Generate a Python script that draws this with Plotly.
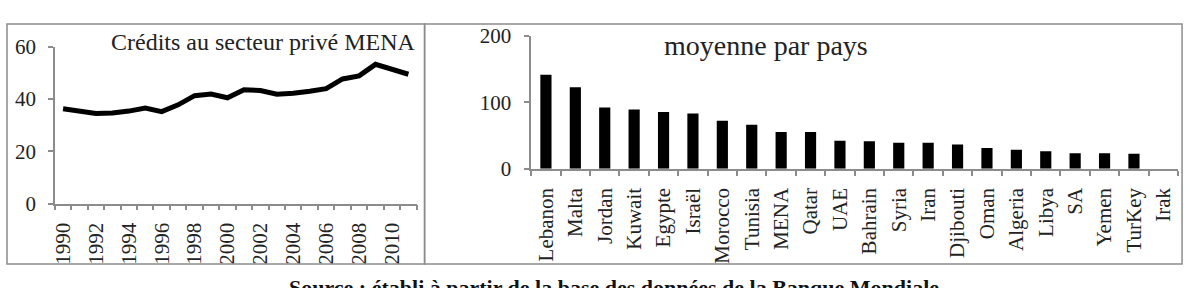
import plotly.graph_objects as go

years = list(range(1990, 2012))
credits_mena = [36.3, 35.4, 34.5, 34.7, 35.4, 36.6, 35.2, 37.8, 41.3, 41.9, 40.5,
                43.6, 43.3, 41.9, 42.2, 43.0, 44.0, 47.7, 48.9, 53.3, 51.2, 49.5]
year_ticks = list(range(1990, 2011, 2))

countries = ["Lebanon", "Malta", "Jordan", "Kuwait", "Egypte", "Israël", "Morocco",
             "Tunisia", "MENA", "Qatar", "UAE", "Bahrain", "Syria", "Iran", "Djibouti",
             "Oman", "Algeria", "Libya", "SA", "Yemen", "TurKey", "Irak"]
moyenne = [141.6, 122.8, 92.0, 89.2, 85.5, 83.2, 72.2, 66.2, 55.2, 55.2, 42.3, 41.4,
           39.1, 39.1, 36.3, 31.3, 28.5, 26.2, 23.4, 23.4, 22.5, 0]

W, H = 1197, 288
FONT = "Liberation Serif, Times New Roman, serif"
GREY = "#8c8c8c"

def px(x):
    return x / W

def py(y):
    return 1 - y / H

fig = go.Figure()
fig.add_trace(go.Scatter(x=years, y=credits_mena, mode="lines",
                         line=dict(color="black", width=5), xaxis="x", yaxis="y",
                         showlegend=False))
fig.add_trace(go.Bar(x=countries, y=moyenne, marker=dict(color="black", line=dict(width=0)),
                     xaxis="x2", yaxis="y2", showlegend=False))

tickfont = dict(family=FONT, size=21, color="#222")

fig.update_layout(
    width=W, height=H,
    margin=dict(l=0, r=0, t=0, b=0),
    paper_bgcolor="white", plot_bgcolor="white",
    bargap=0.62,
    xaxis=dict(domain=[px(51), px(414)], range=[1989.5, 2011.5],
               tickvals=year_ticks, ticktext=[str(y) for y in year_ticks],
               tickangle=-90, ticks="", tickfont=tickfont, ticklabelstandoff=9,
               minor=dict(ticks="outside", tick0=1989.5, dtick=1, ticklen=5,
                          tickcolor=GREY, tickwidth=1.5),
               showline=True, linecolor=GREY, linewidth=1.5, showgrid=False,
               zeroline=False, anchor="y"),
    yaxis=dict(domain=[py(209), py(38)], range=[0, 60], tickvals=[0, 20, 40, 60],
               ticks="outside", ticklen=5, tickcolor=GREY, tickwidth=1.5,
               tickfont=tickfont, ticklabelstandoff=8, showline=True, linecolor=GREY,
               linewidth=1.5, showgrid=False, zeroline=False, anchor="x"),
    xaxis2=dict(domain=[px(529), px(1178)], type="category", tickangle=-90,
                ticks="outside", tickson="boundaries", ticklen=5, tickcolor=GREY,
                tickwidth=1.5, tickfont=tickfont, ticklabelstandoff=9, showline=True,
                linecolor=GREY, linewidth=1.5, showgrid=False, zeroline=False,
                anchor="y2"),
    yaxis2=dict(domain=[py(171), py(26)], range=[0, 200], tickvals=[0, 100, 200],
                ticks="outside", ticklen=5, tickcolor=GREY, tickwidth=1.5,
                tickfont=tickfont, ticklabelstandoff=9, showline=True, linecolor=GREY,
                linewidth=1.5, showgrid=False, zeroline=False, anchor="x2"),
    shapes=[
        dict(type="rect", xref="paper", yref="paper", x0=px(3), x1=px(422),
             y0=py(275), y1=py(13), line=dict(color=GREY, width=1.5)),
        dict(type="rect", xref="paper", yref="paper", x0=px(422), x1=px(1182),
             y0=py(275), y1=py(13), line=dict(color=GREY, width=1.5)),
    ],
    annotations=[
        dict(text="Crédits au secteur privé MENA", xref="paper", yref="paper",
             x=px(260), y=py(33), showarrow=False, xanchor="center", yanchor="middle",
             font=dict(family=FONT, size=24, color="#222")),
        dict(text="moyenne par pays", xref="paper", yref="paper",
             x=px(765), y=py(37), showarrow=False, xanchor="center", yanchor="middle",
             font=dict(family=FONT, size=28, color="#222")),
        dict(text="<b>Source : établi à partir de la base des données de la Banque Mondiale</b>",
             xref="paper", yref="paper", x=px(612), y=-0.045, showarrow=False,
             xanchor="center", yanchor="middle",
             font=dict(family=FONT, size=22, color="#111")),
    ],
)

fig.write_html("out.html")
